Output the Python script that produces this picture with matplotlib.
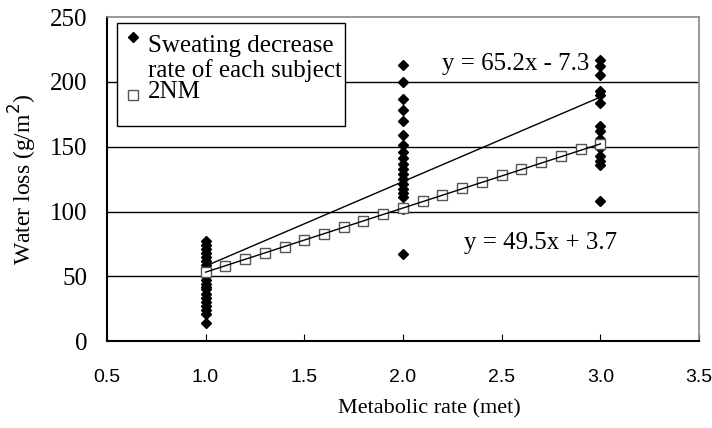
import matplotlib
matplotlib.use("Agg")
import matplotlib.pyplot as plt
import numpy as np

# metabolic rate levels (met)
met_levels = [1.0, 2.0, 3.0]

# sweating decrease of each subject (g/m2)
loss_1met = [77, 74, 71, 68, 65, 62, 59, 56, 53, 50, 47, 44, 42, 40, 36, 33, 30, 27, 24, 21, 14]
loss_2met = [213, 200, 187, 178, 170, 159, 151, 146, 141, 137, 133, 129, 125, 121, 117, 114, 111, 102, 67]
loss_3met = [217, 212, 205, 193, 190, 184, 166, 162, 156, 149, 143, 139, 136, 108]

# 2NM model curve
nm_x = [1.0, 1.1, 1.2, 1.3, 1.4, 1.5, 1.6, 1.7, 1.8, 1.9, 2.0,
        2.1, 2.2, 2.3, 2.4, 2.5, 2.6, 2.7, 2.8, 2.9, 3.0]
nm_y = [53, 58, 63, 68, 73, 78, 83, 88, 93, 98, 103,
        108, 113, 118, 123, 128, 133, 138, 143, 148, 152]

# trend lines (slope, intercept) as printed on the chart
fit_subjects = (65.2, -7.3)
fit_2nm = (49.5, 3.7)

serif = ["Liberation Serif", "DejaVu Serif"]
sans = ["Liberation Sans", "DejaVu Sans"]

fig = plt.figure(figsize=(7.12, 4.28), dpi=100)
ax = fig.add_axes([0.150, 0.203, 0.832, 0.757])

# horizontal gridlines
for gy in [50, 100, 150, 200]:
    ax.axhline(gy, color="black", lw=1.0, zorder=1)

# subject points
for lvl, vals in zip(met_levels, [loss_1met, loss_2met, loss_3met]):
    ax.plot([lvl] * len(vals), vals, linestyle="none", marker="D", markersize=5.5,
            color="black", zorder=3)

# 2NM squares
ax.plot(nm_x, nm_y, linestyle="none", marker="s", markersize=7.5,
        markerfacecolor="white", markeredgecolor="#555555", markeredgewidth=1.0, zorder=4)

# trend lines
xs = np.array([met_levels[0], met_levels[-1]])
ax.plot(xs, fit_subjects[0] * xs + fit_subjects[1], color="black", lw=1.0, zorder=5)
ax.plot(xs, fit_2nm[0] * xs + fit_2nm[1], color="black", lw=1.0, zorder=5)

ax.text(2.20, 214, "y = 65.2x - 7.3", fontsize=18, family=serif, ha="left", va="center")
ax.text(2.31, 76, "y = 49.5x + 3.7", fontsize=18, family=serif, ha="left", va="center")

ax.set_xlim(0.5, 3.5)
ax.set_ylim(0, 250)
ax.set_xticks([0.5, 1.0, 1.5, 2.0, 2.5, 3.0, 3.5])
ax.set_xticklabels(["0.5", "1.0", "1.5", "2.0", "2.5", "3.0", "3.5"], family=sans, fontsize=14)
ax.set_yticks([0, 50, 100, 150, 200, 250])
ax.set_yticklabels(["0", "50", "100", "150", "200", "250"], family=serif, fontsize=18)
ax.tick_params(axis="x", direction="in", length=5, pad=20, color="black")
ax.tick_params(axis="y", direction="in", length=0, pad=14)

ax.set_xlabel("Metabolic rate (met)", family=serif, fontsize=16)
ax.xaxis.set_label_coords(0.545, -0.18)
ax.set_ylabel("Water loss (g/m$^2$)", family=serif, fontsize=17, labelpad=8)

for side in ["left", "bottom"]:
    ax.spines[side].set_color("black")
    ax.spines[side].set_linewidth(1.5)
for side in ["top", "right"]:
    ax.spines[side].set_color("#888888")
    ax.spines[side].set_linewidth(1.2)

# legend box, drawn by hand
ax.add_patch(plt.Rectangle((0.017, 0.663), 0.385, 0.318, transform=ax.transAxes,
                           facecolor="white", edgecolor="black", lw=1.0, zorder=6))
ax.plot([0.044], [0.938], transform=ax.transAxes, marker="D", markersize=5,
        color="black", linestyle="none", zorder=7, clip_on=False)
ax.plot([0.044], [0.76], transform=ax.transAxes, marker="s", markersize=7,
        markerfacecolor="white", markeredgecolor="#555555", linestyle="none",
        zorder=7, clip_on=False)
ax.text(0.069, 0.912, "Sweating decrease", transform=ax.transAxes, family=serif,
        fontsize=18, ha="left", va="center", zorder=8)
ax.text(0.069, 0.835, "rate of each subject", transform=ax.transAxes, family=serif,
        fontsize=18, ha="left", va="center", zorder=8)
ax.text(0.069, 0.768, "2NM", transform=ax.transAxes, family=serif,
        fontsize=18, ha="left", va="center", zorder=8)

fig.savefig("out.png", dpi=100)
